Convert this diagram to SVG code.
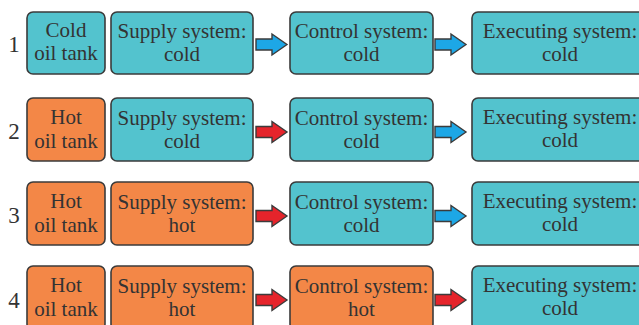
<svg xmlns="http://www.w3.org/2000/svg" xmlns:xlink="http://www.w3.org/1999/xlink" width="639" height="325" viewBox="0 0 639 325">
<style>
.box{stroke:#3b3b3b;stroke-width:1.6}
.cold{fill:#53C3CE}
.hot{fill:#F38747}
text{font-family:"Liberation Serif","Times New Roman",serif;font-size:21px;fill:#333;text-anchor:middle}
.num{font-size:23px}
.ab{fill:#1DA7E6;stroke:#3b3b3b;stroke-width:1.4}
.ar{fill:#E5242B;stroke:#3b3b3b;stroke-width:1.4}
</style>
<defs>
<path id="arr" d="M0,-5.5 H16 V-10.5 L31,0 L16,10.5 V5.5 H0 Z"/>
</defs>
<rect width="639" height="325" fill="#fff"/>
<!-- Row labels -->
<g id="labels">
<text class="num" x="14" y="52">1</text>
<text class="num" x="14" y="139">2</text>
<text class="num" x="14" y="223">3</text>
<text class="num" x="14" y="308">4</text>
</g>
<!-- Row 1 -->
<g id="r1-tank"><rect class="box cold" x="27" y="12" width="78" height="62" rx="6"/><text x="66" y="37">Cold</text><text x="66" y="60">oil tank</text></g>
<g id="r1-supply"><rect class="box cold" x="111" y="12" width="142" height="62" rx="6"/><text x="182" y="38">Supply system:</text><text x="182" y="61">cold</text></g>
<g id="r1-control"><rect class="box cold" x="290" y="12" width="143" height="62" rx="6"/><text x="361.5" y="38">Control system:</text><text x="361.5" y="61">cold</text></g>
<g id="r1-exec"><rect class="box cold" x="472" y="12" width="176" height="62" rx="6"/><text x="560" y="38">Executing system:</text><text x="560" y="61">cold</text></g>
<!-- Row 2 -->
<g id="r2-tank"><rect class="box hot" x="27" y="98" width="78" height="63" rx="6"/><text x="66" y="124">Hot</text><text x="66" y="148">oil tank</text></g>
<g id="r2-supply"><rect class="box cold" x="111" y="98" width="142" height="63" rx="6"/><text x="182" y="125">Supply system:</text><text x="182" y="148">cold</text></g>
<g id="r2-control"><rect class="box cold" x="290" y="98" width="143" height="63" rx="6"/><text x="361.5" y="125">Control system:</text><text x="361.5" y="148">cold</text></g>
<g id="r2-exec"><rect class="box cold" x="472" y="98" width="176" height="63" rx="6"/><text x="560" y="124">Executing system:</text><text x="560" y="147">cold</text></g>
<!-- Row 3 -->
<g id="r3-tank"><rect class="box hot" x="27" y="182" width="78" height="63" rx="6"/><text x="66" y="208">Hot</text><text x="66" y="232">oil tank</text></g>
<g id="r3-supply"><rect class="box hot" x="111" y="182" width="142" height="63" rx="6"/><text x="182" y="209">Supply system:</text><text x="182" y="232">hot</text></g>
<g id="r3-control"><rect class="box cold" x="290" y="182" width="143" height="63" rx="6"/><text x="361.5" y="209">Control system:</text><text x="361.5" y="232">cold</text></g>
<g id="r3-exec"><rect class="box cold" x="472" y="182" width="176" height="63" rx="6"/><text x="560" y="208">Executing system:</text><text x="560" y="231">cold</text></g>
<!-- Row 4 -->
<g id="r4-tank"><rect class="box hot" x="27" y="266" width="78" height="64" rx="6"/><text x="66" y="292">Hot</text><text x="66" y="316">oil tank</text></g>
<g id="r4-supply"><rect class="box hot" x="111" y="266" width="142" height="64" rx="6"/><text x="182" y="293">Supply system:</text><text x="182" y="316">hot</text></g>
<g id="r4-control"><rect class="box hot" x="290" y="266" width="143" height="64" rx="6"/><text x="361.5" y="293">Control system:</text><text x="361.5" y="316">hot</text></g>
<g id="r4-exec"><rect class="box cold" x="472" y="266" width="176" height="64" rx="6"/><text x="560" y="292">Executing system:</text><text x="560" y="315">cold</text></g>
<!-- Connectors -->
<g id="connectors">
<use xlink:href="#arr" class="ab" transform="translate(256,44.5)"/>
<use xlink:href="#arr" class="ab" transform="translate(435,44.5)"/>
<use xlink:href="#arr" class="ar" transform="translate(256,132)"/>
<use xlink:href="#arr" class="ab" transform="translate(435,132)"/>
<use xlink:href="#arr" class="ar" transform="translate(256,216)"/>
<use xlink:href="#arr" class="ab" transform="translate(435,216)"/>
<use xlink:href="#arr" class="ar" transform="translate(256,300)"/>
<use xlink:href="#arr" class="ar" transform="translate(435,300)"/>
</g>
</svg>
